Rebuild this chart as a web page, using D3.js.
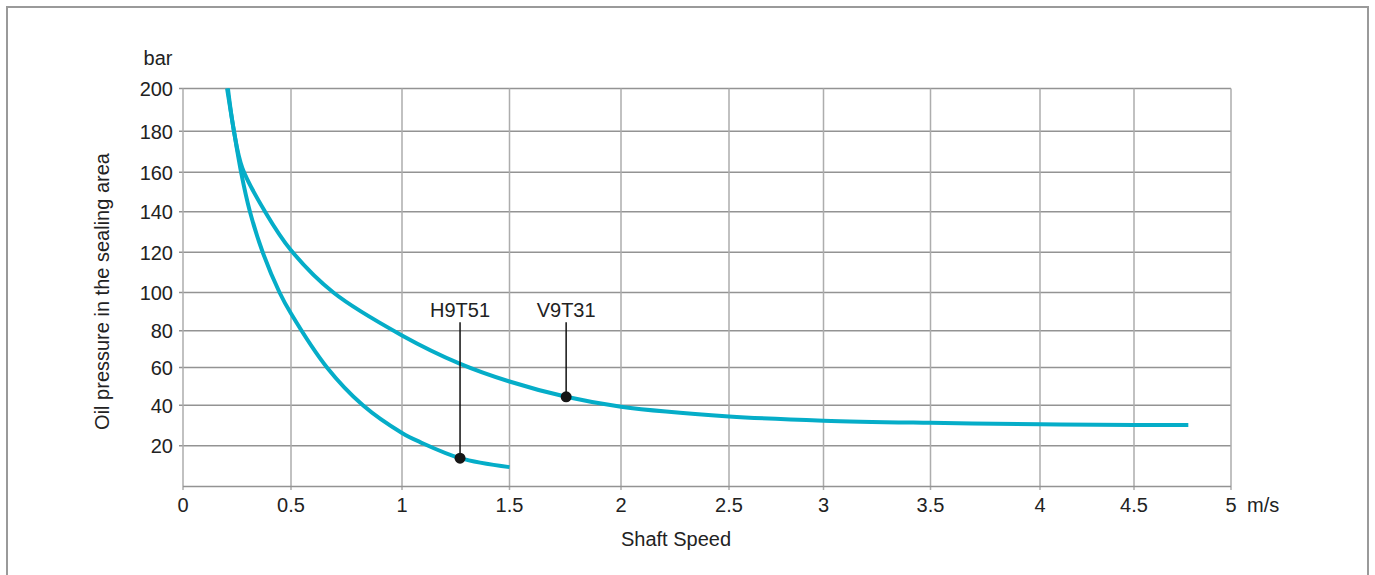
<!DOCTYPE html>
<html><head><meta charset="utf-8">
<script src="https://cdn.jsdelivr.net/npm/d3@7/dist/d3.min.js"></script>
<style>
html,body{margin:0;padding:0;background:#fff;}
svg{display:block;font-family:"Liberation Sans",Arial,sans-serif;}
</style></head>
<body>
<svg id="chart" width="1375" height="575"></svg>
<script>
// ---- data ----
const xTicks = [0, 0.5, 1, 1.5, 2, 2.5, 3, 3.5, 4, 4.5, 5];
const xTickLabels = ["0", "0.5", "1", "1.5", "2", "2.5", "3", "3.5", "4", "4.5", "5"];
const yTicks = [0, 20, 40, 60, 80, 100, 120, 140, 160, 180, 200];
const yTickLabels = ["", "20", "40", "60", "80", "100", "120", "140", "160", "180", "200"];
const xUnit = "m/s";
const yUnit = "bar";
const xTitle = "Shaft Speed";
const yTitle = "Oil pressure in the sealing area";

const seriesNames = ["H9T51", "V9T31"];
const h9t51Speed    = [0.204, 0.236, 0.269, 0.31, 0.369, 0.447, 0.5, 0.662, 0.824, 1.0, 1.084, 1.27, 1.5];
const h9t51Pressure = [200, 180, 160, 140, 120, 100, 89, 60, 40, 26.3, 21.8, 13.9, 9.5];
const v9t31Speed    = [0.208, 0.236, 0.275, 0.38, 0.5, 0.691, 1.0, 1.271, 1.5, 1.754, 2.0, 2.5, 3.0, 3.5, 4.0, 4.5, 4.78];
const v9t31Pressure = [200, 180, 162, 140, 121, 100, 77.5, 62, 52.6, 44.5, 39.3, 34.5, 32.4, 31.3, 30.6, 30.3, 30.3];
// annotation markers (speed, pressure) and label anchor pressure
const markerSpeed    = [1.27, 1.754];
const markerPressure = [13.9, 44.5];
const labelPressure  = 84.5;

// ---- layout ----
const xRange = [183, 291, 402, 509.5, 621, 729, 823.5, 930.5, 1040, 1134, 1231];
const yRange = [486.5, 445.7, 405.3, 367.5, 330.8, 292.5, 252.3, 211.7, 172.3, 131.3, 88.5];
const x = d3.scaleLinear().domain(xTicks).range(xRange);
const y = d3.scaleLinear().domain(yTicks).range(yRange);

const svg = d3.select("#chart");
const lineColor = "#05adc8";
const fontSize = 20;

// frame
svg.append("rect").attr("x", 7).attr("y", 7).attr("width", 1361).attr("height", 600)
  .attr("fill", "none").attr("stroke", "#9a9a9a").attr("stroke-width", 2);

// horizontal gridlines
svg.append("g").selectAll("line").data(yTicks.slice(1)).join("line")
  .attr("x1", x(0) - 4).attr("x2", x(5))
  .attr("y1", d => y(d)).attr("y2", d => y(d))
  .attr("stroke", "#939393").attr("stroke-width", 1.5);
// vertical gridlines
svg.append("g").selectAll("line").data(xTicks).join("line")
  .attr("x1", d => x(d)).attr("x2", d => x(d))
  .attr("y1", y(200)).attr("y2", y(0) + 3.5)
  .attr("stroke", "#adadad").attr("stroke-width", 1.5);
// x axis baseline
svg.append("line").attr("x1", x(0)).attr("x2", x(5)).attr("y1", y(0)).attr("y2", y(0))
  .attr("stroke", "#939393").attr("stroke-width", 1.5);

// x tick labels
svg.append("g").selectAll("text").data(xTicks).join("text")
  .attr("x", d => x(d)).attr("y", y(0) + 25)
  .attr("text-anchor", "middle").attr("font-size", fontSize).attr("fill", "#222")
  .text((d, i) => xTickLabels[i]);
svg.append("text").attr("x", x(5) + 16).attr("y", y(0) + 25)
  .attr("font-size", fontSize).attr("fill", "#222").text(xUnit);

// y tick labels
svg.append("g").selectAll("text").data(yTicks).join("text")
  .attr("x", x(0) - 10).attr("y", d => y(d)).attr("dy", "0.36em")
  .attr("text-anchor", "end").attr("font-size", fontSize).attr("fill", "#222")
  .text((d, i) => yTickLabels[i]);
svg.append("text").attr("x", 158).attr("y", y(200) - 24)
  .attr("text-anchor", "middle").attr("font-size", fontSize).attr("fill", "#222").text(yUnit);

// axis titles
svg.append("text").attr("x", 676).attr("y", y(0) + 59)
  .attr("text-anchor", "middle").attr("font-size", fontSize).attr("fill", "#222").text(xTitle);
svg.append("text").attr("transform", `translate(109,${(y(0) + y(200)) / 2 + 4}) rotate(-90)`)
  .attr("text-anchor", "middle").attr("font-size", fontSize).attr("fill", "#222").text(yTitle);

// curves
const line = d3.line().x(d => x(d[0])).y(d => y(d[1])).curve(d3.curveCatmullRom.alpha(0.5));
const curves = [
  h9t51Speed.map((s, i) => [s, h9t51Pressure[i]]),
  v9t31Speed.map((s, i) => [s, v9t31Pressure[i]])
];
svg.append("g").selectAll("path").data(curves).join("path")
  .attr("d", line).attr("fill", "none").attr("stroke", lineColor).attr("stroke-width", 4);

// annotations
const ann = svg.append("g");
seriesNames.forEach((name, i) => {
  const mx = x(markerSpeed[i]), my = y(markerPressure[i]);
  ann.append("line").attr("x1", mx).attr("x2", mx).attr("y1", y(labelPressure)).attr("y2", my)
    .attr("stroke", "#111").attr("stroke-width", 1.5);
  ann.append("circle").attr("cx", mx).attr("cy", my).attr("r", 5.5).attr("fill", "#161616");
  ann.append("text").attr("x", mx).attr("y", y(labelPressure) - 5)
    .attr("text-anchor", "middle").attr("font-size", fontSize).attr("fill", "#222").text(name);
});
</script>
</body></html>
